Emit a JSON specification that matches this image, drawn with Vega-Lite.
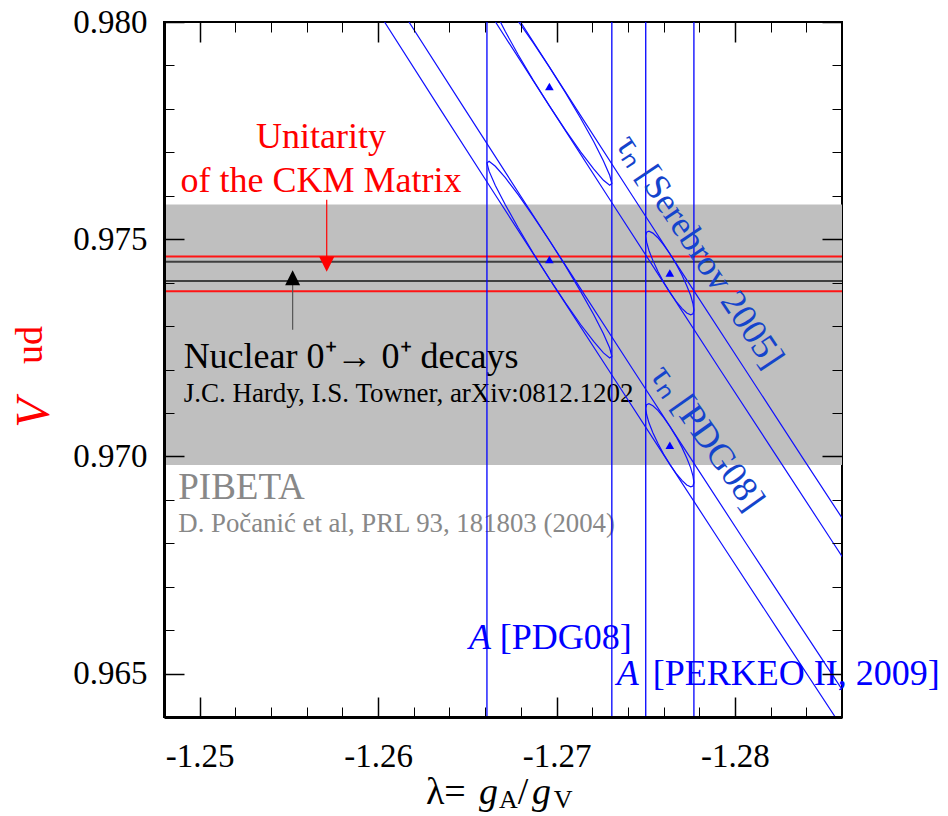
{
  "$schema": "https://vega.github.io/schema/vega-lite/v6.json",
  "width": 678,
  "height": 695,
  "autosize": {"type": "none"},
  "padding": {"left": 164, "top": 22, "right": 106, "bottom": 99},
  "background": "white",
  "config": {
    "font": "Liberation Serif",
    "view": {"stroke": "black", "strokeWidth": 2},
    "text": {"font": "Liberation Serif"},
    "axis": {"labelFont": "Liberation Serif", "titleFont": "Liberation Serif"}
  },
  "datasets": {
    "pibeta_band": [{"lo": 0.9698, "hi": 0.9758}],
    "ckm_lines": [{"v": 0.9746}, {"v": 0.9738}],
    "nuclear_lines": [{"v": 0.97448}, {"v": 0.97404}],
    "a_lines": [
      {"exp": "PDG08", "lam": -1.2661},
      {"exp": "PDG08", "lam": -1.2731},
      {"exp": "PERKEO II", "lam": -1.2750},
      {"exp": "PERKEO II", "lam": -1.2777}
    ],
    "tau_edges": [
      {"edge": "PDG08 upper", "v": 0.980, "lam": -1.26173},
      {"edge": "PDG08 upper", "v": 0.978, "lam": -1.26485},
      {"edge": "PDG08 upper", "v": 0.976, "lam": -1.26798},
      {"edge": "PDG08 upper", "v": 0.974, "lam": -1.27113},
      {"edge": "PDG08 upper", "v": 0.972, "lam": -1.27428},
      {"edge": "PDG08 upper", "v": 0.970, "lam": -1.27745},
      {"edge": "PDG08 upper", "v": 0.968, "lam": -1.28062},
      {"edge": "PDG08 upper", "v": 0.966, "lam": -1.28381},
      {"edge": "PDG08 upper", "v": 0.964, "lam": -1.28702},
      {"edge": "PDG08 lower", "v": 0.980, "lam": -1.26036},
      {"edge": "PDG08 lower", "v": 0.978, "lam": -1.26347},
      {"edge": "PDG08 lower", "v": 0.976, "lam": -1.26660},
      {"edge": "PDG08 lower", "v": 0.974, "lam": -1.26974},
      {"edge": "PDG08 lower", "v": 0.972, "lam": -1.27290},
      {"edge": "PDG08 lower", "v": 0.970, "lam": -1.27606},
      {"edge": "PDG08 lower", "v": 0.968, "lam": -1.27923},
      {"edge": "PDG08 lower", "v": 0.966, "lam": -1.28242},
      {"edge": "PDG08 lower", "v": 0.964, "lam": -1.28562},
      {"edge": "Serebrov upper", "v": 0.980, "lam": -1.26798},
      {"edge": "Serebrov upper", "v": 0.978, "lam": -1.27111},
      {"edge": "Serebrov upper", "v": 0.976, "lam": -1.27425},
      {"edge": "Serebrov upper", "v": 0.974, "lam": -1.27740},
      {"edge": "Serebrov upper", "v": 0.972, "lam": -1.28057},
      {"edge": "Serebrov upper", "v": 0.970, "lam": -1.28374},
      {"edge": "Serebrov upper", "v": 0.968, "lam": -1.28693},
      {"edge": "Serebrov lower", "v": 0.980, "lam": -1.26658},
      {"edge": "Serebrov lower", "v": 0.978, "lam": -1.26971},
      {"edge": "Serebrov lower", "v": 0.976, "lam": -1.27285},
      {"edge": "Serebrov lower", "v": 0.974, "lam": -1.27600},
      {"edge": "Serebrov lower", "v": 0.972, "lam": -1.27916},
      {"edge": "Serebrov lower", "v": 0.970, "lam": -1.28234},
      {"edge": "Serebrov lower", "v": 0.968, "lam": -1.28552},
      {"edge": "Serebrov lower", "v": 0.966, "lam": -1.28871}
    ],
    "contours": [
      {"pair": "PDG08 tau, PDG08 A", "k": 0, "lam": -1.26610, "v": 0.976756},
      {"pair": "PDG08 tau, PDG08 A", "k": 1, "lam": -1.26622, "v": 0.976566},
      {"pair": "PDG08 tau, PDG08 A", "k": 2, "lam": -1.26657, "v": 0.976238},
      {"pair": "PDG08 tau, PDG08 A", "k": 3, "lam": -1.26713, "v": 0.975793},
      {"pair": "PDG08 tau, PDG08 A", "k": 4, "lam": -1.26785, "v": 0.975262},
      {"pair": "PDG08 tau, PDG08 A", "k": 5, "lam": -1.26869, "v": 0.974681},
      {"pair": "PDG08 tau, PDG08 A", "k": 6, "lam": -1.26960, "v": 0.974090},
      {"pair": "PDG08 tau, PDG08 A", "k": 7, "lam": -1.27051, "v": 0.973529},
      {"pair": "PDG08 tau, PDG08 A", "k": 8, "lam": -1.27135, "v": 0.973036},
      {"pair": "PDG08 tau, PDG08 A", "k": 9, "lam": -1.27208, "v": 0.972645},
      {"pair": "PDG08 tau, PDG08 A", "k": 10, "lam": -1.27263, "v": 0.972382},
      {"pair": "PDG08 tau, PDG08 A", "k": 11, "lam": -1.27298, "v": 0.972266},
      {"pair": "PDG08 tau, PDG08 A", "k": 12, "lam": -1.27310, "v": 0.972304},
      {"pair": "PDG08 tau, PDG08 A", "k": 13, "lam": -1.27298, "v": 0.972494},
      {"pair": "PDG08 tau, PDG08 A", "k": 14, "lam": -1.27263, "v": 0.972822},
      {"pair": "PDG08 tau, PDG08 A", "k": 15, "lam": -1.27208, "v": 0.973267},
      {"pair": "PDG08 tau, PDG08 A", "k": 16, "lam": -1.27135, "v": 0.973798},
      {"pair": "PDG08 tau, PDG08 A", "k": 17, "lam": -1.27051, "v": 0.974379},
      {"pair": "PDG08 tau, PDG08 A", "k": 18, "lam": -1.26960, "v": 0.974970},
      {"pair": "PDG08 tau, PDG08 A", "k": 19, "lam": -1.26869, "v": 0.975531},
      {"pair": "PDG08 tau, PDG08 A", "k": 20, "lam": -1.26785, "v": 0.976024},
      {"pair": "PDG08 tau, PDG08 A", "k": 21, "lam": -1.26713, "v": 0.976415},
      {"pair": "PDG08 tau, PDG08 A", "k": 22, "lam": -1.26657, "v": 0.976678},
      {"pair": "PDG08 tau, PDG08 A", "k": 23, "lam": -1.26622, "v": 0.976794},
      {"pair": "Serebrov tau, PDG08 A", "k": 0, "lam": -1.26610, "v": 0.980750},
      {"pair": "Serebrov tau, PDG08 A", "k": 1, "lam": -1.26622, "v": 0.980559},
      {"pair": "Serebrov tau, PDG08 A", "k": 2, "lam": -1.26657, "v": 0.980228},
      {"pair": "Serebrov tau, PDG08 A", "k": 3, "lam": -1.26713, "v": 0.979780},
      {"pair": "Serebrov tau, PDG08 A", "k": 4, "lam": -1.26785, "v": 0.979247},
      {"pair": "Serebrov tau, PDG08 A", "k": 5, "lam": -1.26869, "v": 0.978662},
      {"pair": "Serebrov tau, PDG08 A", "k": 6, "lam": -1.26960, "v": 0.978069},
      {"pair": "Serebrov tau, PDG08 A", "k": 7, "lam": -1.27051, "v": 0.977506},
      {"pair": "Serebrov tau, PDG08 A", "k": 8, "lam": -1.27135, "v": 0.977011},
      {"pair": "Serebrov tau, PDG08 A", "k": 9, "lam": -1.27208, "v": 0.976620},
      {"pair": "Serebrov tau, PDG08 A", "k": 10, "lam": -1.27263, "v": 0.976356},
      {"pair": "Serebrov tau, PDG08 A", "k": 11, "lam": -1.27298, "v": 0.976241},
      {"pair": "Serebrov tau, PDG08 A", "k": 12, "lam": -1.27310, "v": 0.976280},
      {"pair": "Serebrov tau, PDG08 A", "k": 13, "lam": -1.27298, "v": 0.976471},
      {"pair": "Serebrov tau, PDG08 A", "k": 14, "lam": -1.27263, "v": 0.976802},
      {"pair": "Serebrov tau, PDG08 A", "k": 15, "lam": -1.27208, "v": 0.977250},
      {"pair": "Serebrov tau, PDG08 A", "k": 16, "lam": -1.27135, "v": 0.977783},
      {"pair": "Serebrov tau, PDG08 A", "k": 17, "lam": -1.27051, "v": 0.978368},
      {"pair": "Serebrov tau, PDG08 A", "k": 18, "lam": -1.26960, "v": 0.978961},
      {"pair": "Serebrov tau, PDG08 A", "k": 19, "lam": -1.26869, "v": 0.979524},
      {"pair": "Serebrov tau, PDG08 A", "k": 20, "lam": -1.26785, "v": 0.980019},
      {"pair": "Serebrov tau, PDG08 A", "k": 21, "lam": -1.26713, "v": 0.980410},
      {"pair": "Serebrov tau, PDG08 A", "k": 22, "lam": -1.26657, "v": 0.980674},
      {"pair": "Serebrov tau, PDG08 A", "k": 23, "lam": -1.26622, "v": 0.980789},
      {"pair": "PDG08 tau, PERKEO A", "k": 0, "lam": -1.27500, "v": 0.971106},
      {"pair": "PDG08 tau, PERKEO A", "k": 1, "lam": -1.27505, "v": 0.970964},
      {"pair": "PDG08 tau, PERKEO A", "k": 2, "lam": -1.27518, "v": 0.970773},
      {"pair": "PDG08 tau, PERKEO A", "k": 3, "lam": -1.27540, "v": 0.970546},
      {"pair": "PDG08 tau, PERKEO A", "k": 4, "lam": -1.27568, "v": 0.970301},
      {"pair": "PDG08 tau, PERKEO A", "k": 5, "lam": -1.27600, "v": 0.970052},
      {"pair": "PDG08 tau, PERKEO A", "k": 6, "lam": -1.27635, "v": 0.969816},
      {"pair": "PDG08 tau, PERKEO A", "k": 7, "lam": -1.27670, "v": 0.969610},
      {"pair": "PDG08 tau, PERKEO A", "k": 8, "lam": -1.27703, "v": 0.969449},
      {"pair": "PDG08 tau, PERKEO A", "k": 9, "lam": -1.27730, "v": 0.969342},
      {"pair": "PDG08 tau, PERKEO A", "k": 10, "lam": -1.27752, "v": 0.969297},
      {"pair": "PDG08 tau, PERKEO A", "k": 11, "lam": -1.27765, "v": 0.969318},
      {"pair": "PDG08 tau, PERKEO A", "k": 12, "lam": -1.27770, "v": 0.969402},
      {"pair": "PDG08 tau, PERKEO A", "k": 13, "lam": -1.27765, "v": 0.969544},
      {"pair": "PDG08 tau, PERKEO A", "k": 14, "lam": -1.27752, "v": 0.969735},
      {"pair": "PDG08 tau, PERKEO A", "k": 15, "lam": -1.27730, "v": 0.969962},
      {"pair": "PDG08 tau, PERKEO A", "k": 16, "lam": -1.27703, "v": 0.970207},
      {"pair": "PDG08 tau, PERKEO A", "k": 17, "lam": -1.27670, "v": 0.970456},
      {"pair": "PDG08 tau, PERKEO A", "k": 18, "lam": -1.27635, "v": 0.970692},
      {"pair": "PDG08 tau, PERKEO A", "k": 19, "lam": -1.27600, "v": 0.970898},
      {"pair": "PDG08 tau, PERKEO A", "k": 20, "lam": -1.27568, "v": 0.971059},
      {"pair": "PDG08 tau, PERKEO A", "k": 21, "lam": -1.27540, "v": 0.971166},
      {"pair": "PDG08 tau, PERKEO A", "k": 22, "lam": -1.27518, "v": 0.971211},
      {"pair": "PDG08 tau, PERKEO A", "k": 23, "lam": -1.27505, "v": 0.971190},
      {"pair": "Serebrov tau, PERKEO A", "k": 0, "lam": -1.27500, "v": 0.975076},
      {"pair": "Serebrov tau, PERKEO A", "k": 1, "lam": -1.27505, "v": 0.974932},
      {"pair": "Serebrov tau, PERKEO A", "k": 2, "lam": -1.27518, "v": 0.974739},
      {"pair": "Serebrov tau, PERKEO A", "k": 3, "lam": -1.27540, "v": 0.974512},
      {"pair": "Serebrov tau, PERKEO A", "k": 4, "lam": -1.27568, "v": 0.974264},
      {"pair": "Serebrov tau, PERKEO A", "k": 5, "lam": -1.27600, "v": 0.974013},
      {"pair": "Serebrov tau, PERKEO A", "k": 6, "lam": -1.27635, "v": 0.973777},
      {"pair": "Serebrov tau, PERKEO A", "k": 7, "lam": -1.27670, "v": 0.973571},
      {"pair": "Serebrov tau, PERKEO A", "k": 8, "lam": -1.27703, "v": 0.973408},
      {"pair": "Serebrov tau, PERKEO A", "k": 9, "lam": -1.27730, "v": 0.973302},
      {"pair": "Serebrov tau, PERKEO A", "k": 10, "lam": -1.27752, "v": 0.973259},
      {"pair": "Serebrov tau, PERKEO A", "k": 11, "lam": -1.27765, "v": 0.973280},
      {"pair": "Serebrov tau, PERKEO A", "k": 12, "lam": -1.27770, "v": 0.973366},
      {"pair": "Serebrov tau, PERKEO A", "k": 13, "lam": -1.27765, "v": 0.973510},
      {"pair": "Serebrov tau, PERKEO A", "k": 14, "lam": -1.27752, "v": 0.973703},
      {"pair": "Serebrov tau, PERKEO A", "k": 15, "lam": -1.27730, "v": 0.973930},
      {"pair": "Serebrov tau, PERKEO A", "k": 16, "lam": -1.27703, "v": 0.974178},
      {"pair": "Serebrov tau, PERKEO A", "k": 17, "lam": -1.27670, "v": 0.974429},
      {"pair": "Serebrov tau, PERKEO A", "k": 18, "lam": -1.27635, "v": 0.974665},
      {"pair": "Serebrov tau, PERKEO A", "k": 19, "lam": -1.27600, "v": 0.974871},
      {"pair": "Serebrov tau, PERKEO A", "k": 20, "lam": -1.27568, "v": 0.975034},
      {"pair": "Serebrov tau, PERKEO A", "k": 21, "lam": -1.27540, "v": 0.975140},
      {"pair": "Serebrov tau, PERKEO A", "k": 22, "lam": -1.27518, "v": 0.975183},
      {"pair": "Serebrov tau, PERKEO A", "k": 23, "lam": -1.27505, "v": 0.975162}
    ],
    "best_fit": [
      {"pair": "PDG08 tau, PDG08 A", "lam": -1.2696, "v": 0.97453},
      {"pair": "Serebrov tau, PDG08 A", "lam": -1.2696, "v": 0.978515},
      {"pair": "PDG08 tau, PERKEO A", "lam": -1.27635, "v": 0.970254},
      {"pair": "Serebrov tau, PERKEO A", "lam": -1.27635, "v": 0.974221}
    ],
    "arrows": [
      {"source": "CKM", "lam": -1.25712, "v_from": 0.975906, "v_to": 0.97459, "v_head": 0.974426},
      {"source": "nuclear", "lam": -1.25521, "v_from": 0.972914, "v_to": 0.973947, "v_head": 0.974113}
    ],
    "notes": [
      {"key": "ckm", "text": "Unitarity", "lam": -1.2568, "v": 0.977097},
      {"key": "ckm", "text": "of the CKM Matrix", "lam": -1.2568, "v": 0.976097},
      {"key": "nuclear", "text": "Nuclear 0⁺→ 0⁺ decays", "lam": -1.2491, "v": 0.972028},
      {"key": "nuclear_ref", "text": "J.C. Hardy, I.S. Towner, arXiv:0812.1202", "lam": -1.2491, "v": 0.971244},
      {"key": "pibeta", "text": "PIBETA", "lam": -1.2488, "v": 0.969016},
      {"key": "pibeta_ref", "text": "D. Počanić et al, PRL 93, 181803 (2004)", "lam": -1.2488, "v": 0.968249},
      {"key": "a_sym", "text": "A", "lam": -1.26509, "v": 0.96556},
      {"key": "a_sym", "text": "A", "lam": -1.27338, "v": 0.96473},
      {"key": "a_ref", "text": "[PDG08]", "lam": -1.266824, "v": 0.96556},
      {"key": "a_ref", "text": "[PERKEO II, 2009]", "lam": -1.275395, "v": 0.96473},
      {"key": "tau_sere", "text": "τₙ [Serebrov 2005]", "lam": -1.278028, "v": 0.974719},
      {"key": "tau_pdg", "text": "τₙ [PDG08]", "lam": -1.278448, "v": 0.970429},
      {"key": "xt_up", "text": "λ=", "lam": -1.26268, "v": 0.961988},
      {"key": "xt_up", "text": "/", "lam": -1.26783, "v": 0.961988},
      {"key": "xt_it", "text": "g", "lam": -1.26565, "v": 0.961988},
      {"key": "xt_it", "text": "g", "lam": -1.26862, "v": 0.961988},
      {"key": "xt_sub", "text": "A", "lam": -1.26677, "v": 0.961896},
      {"key": "xt_sub", "text": "V", "lam": -1.26985, "v": 0.961896},
      {"key": "yt_it", "text": "V", "lam": -1.240773, "v": 0.970998},
      {"key": "yt_sub", "text": "ud", "lam": -1.24054, "v": 0.972565}
    ]
  },
  "resolve": {"axis": {"x": "independent", "y": "independent"}},
  "layer": [
    {
      "data": {"name": "pibeta_band"},
      "mark": {"type": "rect", "color": "#bfbfbf"},
      "encoding": {
        "y": {"field": "lo", "type": "quantitative", "scale": {"domain": [0.964, 0.98], "nice": false, "zero": false}, "axis": null},
        "y2": {"field": "hi"}
      }
    },
    {
      "data": {"name": "ckm_lines"},
      "mark": {"type": "rule", "color": "#ff1414", "strokeWidth": 2, "clip": true},
      "encoding": {
        "y": {"field": "v", "type": "quantitative", "scale": {"domain": [0.964, 0.98], "nice": false, "zero": false}, "axis": null}
      }
    },
    {
      "data": {"name": "nuclear_lines"},
      "mark": {"type": "rule", "color": "#3f3f3f", "strokeWidth": 2, "clip": true},
      "encoding": {
        "y": {"field": "v", "type": "quantitative", "scale": {"domain": [0.964, 0.98], "nice": false, "zero": false}, "axis": null}
      }
    },
    {
      "data": {"name": "arrows"},
      "transform": [{"filter": "datum.source == 'CKM'"}],
      "layer": [
        {
          "mark": {"type": "rule", "color": "#ff0000", "strokeWidth": 1.2},
          "encoding": {
            "x": {"field": "lam", "type": "quantitative", "scale": {"domain": [-1.286, -1.248], "reverse": true, "nice": false, "zero": false}, "axis": null},
            "y": {"field": "v_from", "type": "quantitative", "scale": {"domain": [0.964, 0.98], "nice": false, "zero": false}, "axis": null},
            "y2": {"field": "v_to"}
          }
        },
        {
          "mark": {"type": "point", "shape": "M-1,-1L1,-1L0,1Z", "filled": true, "color": "#ff0000", "opacity": 1, "size": 235},
          "encoding": {
            "x": {"field": "lam", "type": "quantitative", "scale": {"domain": [-1.286, -1.248], "reverse": true, "nice": false, "zero": false}, "axis": null},
            "y": {"field": "v_head", "type": "quantitative", "scale": {"domain": [0.964, 0.98], "nice": false, "zero": false}, "axis": null}
          }
        }
      ]
    },
    {
      "data": {"name": "arrows"},
      "transform": [{"filter": "datum.source == 'nuclear'"}],
      "layer": [
        {
          "mark": {"type": "rule", "color": "#555555", "strokeWidth": 1.2},
          "encoding": {
            "x": {"field": "lam", "type": "quantitative", "scale": {"domain": [-1.286, -1.248], "reverse": true, "nice": false, "zero": false}, "axis": null},
            "y": {"field": "v_from", "type": "quantitative", "scale": {"domain": [0.964, 0.98], "nice": false, "zero": false}, "axis": null},
            "y2": {"field": "v_to"}
          }
        },
        {
          "mark": {"type": "point", "shape": "M0,-1L1,1L-1,1Z", "filled": true, "color": "#000000", "opacity": 1, "size": 225},
          "encoding": {
            "x": {"field": "lam", "type": "quantitative", "scale": {"domain": [-1.286, -1.248], "reverse": true, "nice": false, "zero": false}, "axis": null},
            "y": {"field": "v_head", "type": "quantitative", "scale": {"domain": [0.964, 0.98], "nice": false, "zero": false}, "axis": null}
          }
        }
      ]
    },
    {
      "data": {"name": "notes"},
      "transform": [{"filter": "datum.key == 'ckm'"}],
      "mark": {"type": "text", "font": "Liberation Serif", "fontSize": 36, "color": "#ff0000", "align": "center", "baseline": "alphabetic"},
      "encoding": {
        "x": {"field": "lam", "type": "quantitative", "scale": {"domain": [-1.286, -1.248], "reverse": true, "nice": false, "zero": false}, "axis": null},
        "y": {"field": "v", "type": "quantitative", "scale": {"domain": [0.964, 0.98], "nice": false, "zero": false}, "axis": null},
        "text": {"field": "text"}
      }
    },
    {
      "data": {"name": "notes"},
      "transform": [{"filter": "datum.key == 'nuclear'"}],
      "mark": {"type": "text", "font": "Liberation Serif", "fontSize": 36, "color": "#000000", "align": "left", "baseline": "alphabetic"},
      "encoding": {
        "x": {"field": "lam", "type": "quantitative", "scale": {"domain": [-1.286, -1.248], "reverse": true, "nice": false, "zero": false}, "axis": null},
        "y": {"field": "v", "type": "quantitative", "scale": {"domain": [0.964, 0.98], "nice": false, "zero": false}, "axis": null},
        "text": {"field": "text"}
      }
    },
    {
      "data": {"name": "notes"},
      "transform": [{"filter": "datum.key == 'nuclear_ref'"}],
      "mark": {"type": "text", "font": "Liberation Serif", "fontSize": 27, "color": "#000000", "align": "left", "baseline": "alphabetic"},
      "encoding": {
        "x": {"field": "lam", "type": "quantitative", "scale": {"domain": [-1.286, -1.248], "reverse": true, "nice": false, "zero": false}, "axis": null},
        "y": {"field": "v", "type": "quantitative", "scale": {"domain": [0.964, 0.98], "nice": false, "zero": false}, "axis": null},
        "text": {"field": "text"}
      }
    },
    {
      "data": {"name": "notes"},
      "transform": [{"filter": "datum.key == 'pibeta'"}],
      "mark": {"type": "text", "font": "Liberation Serif", "fontSize": 37, "color": "#888888", "align": "left", "baseline": "alphabetic"},
      "encoding": {
        "x": {"field": "lam", "type": "quantitative", "scale": {"domain": [-1.286, -1.248], "reverse": true, "nice": false, "zero": false}, "axis": null},
        "y": {"field": "v", "type": "quantitative", "scale": {"domain": [0.964, 0.98], "nice": false, "zero": false}, "axis": null},
        "text": {"field": "text"}
      }
    },
    {
      "data": {"name": "notes"},
      "transform": [{"filter": "datum.key == 'pibeta_ref'"}],
      "mark": {"type": "text", "font": "Liberation Serif", "fontSize": 26.8, "color": "#888888", "align": "left", "baseline": "alphabetic"},
      "encoding": {
        "x": {"field": "lam", "type": "quantitative", "scale": {"domain": [-1.286, -1.248], "reverse": true, "nice": false, "zero": false}, "axis": null},
        "y": {"field": "v", "type": "quantitative", "scale": {"domain": [0.964, 0.98], "nice": false, "zero": false}, "axis": null},
        "text": {"field": "text"}
      }
    },
    {
      "data": {"name": "a_lines"},
      "mark": {"type": "rule", "color": "#0000ff", "strokeWidth": 1.3, "clip": true},
      "encoding": {
        "x": {"field": "lam", "type": "quantitative", "scale": {"domain": [-1.286, -1.248], "reverse": true, "nice": false, "zero": false}, "axis": null}
      }
    },
    {
      "data": {"name": "tau_edges"},
      "mark": {"type": "line", "color": "#1010ff", "strokeWidth": 1.2, "clip": true},
      "encoding": {
        "x": {"field": "lam", "type": "quantitative", "scale": {"domain": [-1.286, -1.248], "reverse": true, "nice": false, "zero": false}, "axis": null},
        "y": {"field": "v", "type": "quantitative", "scale": {"domain": [0.964, 0.98], "nice": false, "zero": false}, "axis": null},
        "detail": {"field": "edge"},
        "order": {"field": "v", "sort": "descending"}
      }
    },
    {
      "data": {"name": "contours"},
      "mark": {"type": "line", "color": "#1010ff", "strokeWidth": 1.2, "interpolate": "linear-closed", "clip": true},
      "encoding": {
        "x": {"field": "lam", "type": "quantitative", "scale": {"domain": [-1.286, -1.248], "reverse": true, "nice": false, "zero": false}, "axis": null},
        "y": {"field": "v", "type": "quantitative", "scale": {"domain": [0.964, 0.98], "nice": false, "zero": false}, "axis": null},
        "detail": {"field": "pair"},
        "order": {"field": "k"}
      }
    },
    {
      "data": {"name": "best_fit"},
      "mark": {"type": "point", "shape": "triangle-up", "filled": true, "color": "#0000ff", "opacity": 1, "size": 75},
      "encoding": {
        "x": {"field": "lam", "type": "quantitative", "scale": {"domain": [-1.286, -1.248], "reverse": true, "nice": false, "zero": false}, "axis": null},
        "y": {"field": "v", "type": "quantitative", "scale": {"domain": [0.964, 0.98], "nice": false, "zero": false}, "axis": null}
      }
    },
    {
      "data": {"name": "notes"},
      "transform": [{"filter": "datum.key == 'a_sym'"}],
      "mark": {"type": "text", "font": "Liberation Serif", "fontSize": 36, "fontStyle": "italic", "color": "#0000ff", "align": "left", "baseline": "alphabetic"},
      "encoding": {
        "x": {"field": "lam", "type": "quantitative", "scale": {"domain": [-1.286, -1.248], "reverse": true, "nice": false, "zero": false}, "axis": null},
        "y": {"field": "v", "type": "quantitative", "scale": {"domain": [0.964, 0.98], "nice": false, "zero": false}, "axis": null},
        "text": {"field": "text"}
      }
    },
    {
      "data": {"name": "notes"},
      "transform": [{"filter": "datum.key == 'a_ref'"}],
      "mark": {"type": "text", "font": "Liberation Serif", "fontSize": 36, "color": "#0000ff", "align": "left", "baseline": "alphabetic"},
      "encoding": {
        "x": {"field": "lam", "type": "quantitative", "scale": {"domain": [-1.286, -1.248], "reverse": true, "nice": false, "zero": false}, "axis": null},
        "y": {"field": "v", "type": "quantitative", "scale": {"domain": [0.964, 0.98], "nice": false, "zero": false}, "axis": null},
        "text": {"field": "text"}
      }
    },
    {
      "data": {"name": "notes"},
      "transform": [{"filter": "datum.key == 'tau_sere'"}],
      "mark": {"type": "text", "font": "Liberation Serif", "fontSize": 36, "color": "#1444cc", "align": "center", "baseline": "middle", "angle": 56.3},
      "encoding": {
        "x": {"field": "lam", "type": "quantitative", "scale": {"domain": [-1.286, -1.248], "reverse": true, "nice": false, "zero": false}, "axis": null},
        "y": {"field": "v", "type": "quantitative", "scale": {"domain": [0.964, 0.98], "nice": false, "zero": false}, "axis": null},
        "text": {"field": "text"}
      }
    },
    {
      "data": {"name": "notes"},
      "transform": [{"filter": "datum.key == 'tau_pdg'"}],
      "mark": {"type": "text", "font": "Liberation Serif", "fontSize": 36, "color": "#1444cc", "align": "center", "baseline": "middle", "angle": 54.7},
      "encoding": {
        "x": {"field": "lam", "type": "quantitative", "scale": {"domain": [-1.286, -1.248], "reverse": true, "nice": false, "zero": false}, "axis": null},
        "y": {"field": "v", "type": "quantitative", "scale": {"domain": [0.964, 0.98], "nice": false, "zero": false}, "axis": null},
        "text": {"field": "text"}
      }
    },
    {
      "data": {"name": "notes"},
      "transform": [{"filter": "datum.key == 'xt_up'"}],
      "mark": {"type": "text", "font": "Liberation Serif", "fontSize": 38, "color": "#000000", "align": "left", "baseline": "alphabetic"},
      "encoding": {
        "x": {"field": "lam", "type": "quantitative", "scale": {"domain": [-1.286, -1.248], "reverse": true, "nice": false, "zero": false}, "axis": null},
        "y": {"field": "v", "type": "quantitative", "scale": {"domain": [0.964, 0.98], "nice": false, "zero": false}, "axis": null},
        "text": {"field": "text"}
      }
    },
    {
      "data": {"name": "notes"},
      "transform": [{"filter": "datum.key == 'xt_it'"}],
      "mark": {"type": "text", "font": "Liberation Serif", "fontSize": 38, "fontStyle": "italic", "color": "#000000", "align": "left", "baseline": "alphabetic"},
      "encoding": {
        "x": {"field": "lam", "type": "quantitative", "scale": {"domain": [-1.286, -1.248], "reverse": true, "nice": false, "zero": false}, "axis": null},
        "y": {"field": "v", "type": "quantitative", "scale": {"domain": [0.964, 0.98], "nice": false, "zero": false}, "axis": null},
        "text": {"field": "text"}
      }
    },
    {
      "data": {"name": "notes"},
      "transform": [{"filter": "datum.key == 'xt_sub'"}],
      "mark": {"type": "text", "font": "Liberation Serif", "fontSize": 26, "color": "#000000", "align": "left", "baseline": "alphabetic"},
      "encoding": {
        "x": {"field": "lam", "type": "quantitative", "scale": {"domain": [-1.286, -1.248], "reverse": true, "nice": false, "zero": false}, "axis": null},
        "y": {"field": "v", "type": "quantitative", "scale": {"domain": [0.964, 0.98], "nice": false, "zero": false}, "axis": null},
        "text": {"field": "text"}
      }
    },
    {
      "data": {"name": "notes"},
      "transform": [{"filter": "datum.key == 'yt_it'"}],
      "mark": {"type": "text", "font": "Liberation Serif", "fontSize": 48, "fontStyle": "italic", "color": "#ff0000", "align": "center", "baseline": "middle", "angle": 270},
      "encoding": {
        "x": {"field": "lam", "type": "quantitative", "scale": {"domain": [-1.286, -1.248], "reverse": true, "nice": false, "zero": false}, "axis": null},
        "y": {"field": "v", "type": "quantitative", "scale": {"domain": [0.964, 0.98], "nice": false, "zero": false}, "axis": null},
        "text": {"field": "text"}
      }
    },
    {
      "data": {"name": "notes"},
      "transform": [{"filter": "datum.key == 'yt_sub'"}],
      "mark": {"type": "text", "font": "Liberation Serif", "fontSize": 38, "color": "#ff0000", "align": "center", "baseline": "middle", "angle": 270},
      "encoding": {
        "x": {"field": "lam", "type": "quantitative", "scale": {"domain": [-1.286, -1.248], "reverse": true, "nice": false, "zero": false}, "axis": null},
        "y": {"field": "v", "type": "quantitative", "scale": {"domain": [0.964, 0.98], "nice": false, "zero": false}, "axis": null},
        "text": {"field": "text"}
      }
    },
    {
      "data": {"name": "best_fit"},
      "mark": {"type": "point", "opacity": 0},
      "encoding": {
        "x": {
          "field": "lam", "type": "quantitative",
          "scale": {"domain": [-1.286, -1.248], "reverse": true, "nice": false, "zero": false},
          "axis": {
            "orient": "bottom", "title": null, "grid": false, "domain": true, "domainColor": "#000000", "domainWidth": 3,
            "values": [-1.25, -1.252, -1.254, -1.256, -1.258, -1.26, -1.262, -1.264, -1.266, -1.268, -1.27, -1.272, -1.274, -1.276, -1.278, -1.28, -1.282, -1.284],
            "tickColor": "#000000",
            "tickSize": {"condition": {"test": "abs(datum.value*100 - round(datum.value*100)) < 0.001", "value": -20}, "value": -10},
            "tickWidth": {"condition": {"test": "abs(datum.value*100 - round(datum.value*100)) < 0.001", "value": 1.5}, "value": 1},
            "labelExpr": "abs(datum.value*100 - round(datum.value*100)) < 0.001 ? '-' + format(-datum.value, '.2f') : ''",
            "labelFont": "Liberation Serif", "labelFontSize": 33, "labelColor": "#000000",
            "labelPadding": 43, "labelOverlap": false, "labelFlush": false, "labelBound": false,
            "encode": {"labels": {"update": {"font": {"value": "Liberation Serif"}}}},
            "zindex": 1
          }
        },
        "y": {
          "field": "v", "type": "quantitative",
          "scale": {"domain": [0.964, 0.98], "nice": false, "zero": false},
          "axis": {
            "orient": "left", "title": null, "grid": false, "domain": true, "domainColor": "#000000", "domainWidth": 3,
            "values": [0.965, 0.966, 0.967, 0.968, 0.969, 0.97, 0.971, 0.972, 0.973, 0.974, 0.975, 0.976, 0.977, 0.978, 0.979, 0.98],
            "tickColor": "#000000",
            "tickSize": {"condition": {"test": "abs(datum.value*200 - round(datum.value*200)) < 0.001", "value": -20}, "value": -10},
            "tickWidth": {"condition": {"test": "abs(datum.value*200 - round(datum.value*200)) < 0.001", "value": 1.5}, "value": 1},
            "labelExpr": "abs(datum.value*200 - round(datum.value*200)) < 0.001 ? format(datum.value, '.3f') : ''",
            "labelFont": "Liberation Serif", "labelFontSize": 33, "labelColor": "#000000",
            "labelPadding": 37, "labelOverlap": false, "labelFlush": false, "labelBound": false,
            "encode": {"labels": {"update": {"font": {"value": "Liberation Serif"}}}},
            "zindex": 1
          }
        }
      }
    },
    {
      "data": {"name": "best_fit"},
      "mark": {"type": "point", "opacity": 0},
      "encoding": {
        "x": {
          "field": "lam", "type": "quantitative",
          "scale": {"domain": [-1.286, -1.248], "reverse": true, "nice": false, "zero": false},
          "axis": {
            "orient": "top", "title": null, "grid": false, "domain": false, "labels": false,
            "values": [-1.25, -1.252, -1.254, -1.256, -1.258, -1.26, -1.262, -1.264, -1.266, -1.268, -1.27, -1.272, -1.274, -1.276, -1.278, -1.28, -1.282, -1.284],
            "tickColor": "#000000",
            "tickSize": {"condition": {"test": "abs(datum.value*100 - round(datum.value*100)) < 0.001", "value": -20}, "value": -10},
            "tickWidth": {"condition": {"test": "abs(datum.value*100 - round(datum.value*100)) < 0.001", "value": 1.5}, "value": 1},
            "zindex": 1
          }
        },
        "y": {
          "field": "v", "type": "quantitative",
          "scale": {"domain": [0.964, 0.98], "nice": false, "zero": false},
          "axis": {
            "orient": "right", "title": null, "grid": false, "domain": false, "labels": false,
            "values": [0.965, 0.966, 0.967, 0.968, 0.969, 0.97, 0.971, 0.972, 0.973, 0.974, 0.975, 0.976, 0.977, 0.978, 0.979, 0.98],
            "tickColor": "#000000",
            "tickSize": {"condition": {"test": "abs(datum.value*200 - round(datum.value*200)) < 0.001", "value": -20}, "value": -10},
            "tickWidth": {"condition": {"test": "abs(datum.value*200 - round(datum.value*200)) < 0.001", "value": 1.5}, "value": 1},
            "zindex": 1
          }
        }
      }
    }
  ]
}
